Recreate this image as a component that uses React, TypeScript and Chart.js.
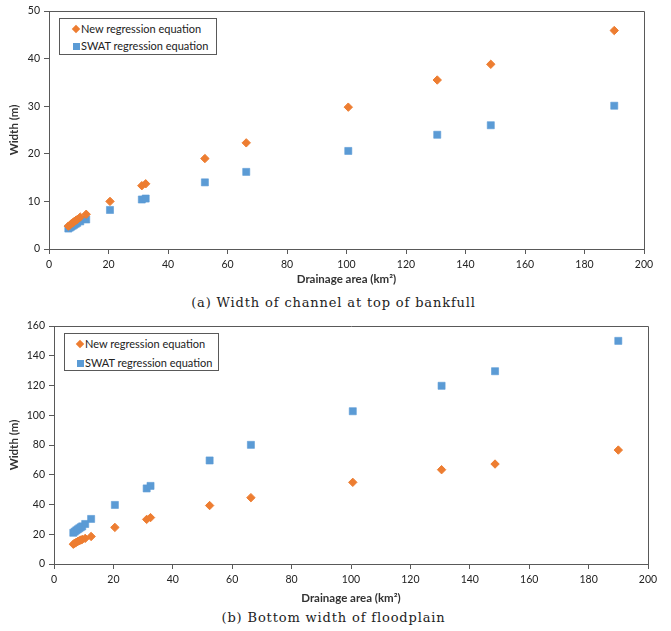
import React, { useEffect, useRef } from "react";
import { Chart, registerables } from "chart.js";

Chart.register(...registerables);

// Drainage area of each sub-basin (km²)
const drainageArea = [6.5, 7, 7.5, 8, 8.5, 9, 9.5, 10.5, 12.5, 20.5, 31.2, 32.5, 52.4, 66.3, 100.6, 130.5, 148.5, 190];

// (a) Width of channel at top of bankfull (m)
const bankfullNew = [4.8, 5.0, 5.3, 5.5, 5.8, 6.0, 6.2, 6.7, 7.3, 10.0, 13.3, 13.7, 19.0, 22.3, 29.8, 35.5, 38.8, 45.9];
const bankfullSwat = [4.3, 4.5, 4.7, 4.9, 5.1, 5.3, 5.5, 5.8, 6.2, 8.2, 10.4, 10.6, 14.0, 16.2, 20.6, 24.0, 26.0, 30.1];

// (b) Bottom width of floodplain (m)
const floodplainNew = [13.3, 14.0, 14.6, 15.1, 15.6, 16.1, 16.5, 17.2, 18.5, 24.6, 30.0, 31.2, 39.3, 44.6, 54.9, 63.4, 67.2, 76.6];
const floodplainSwat = [21.0, 21.8, 22.6, 23.3, 24.0, 24.7, 25.3, 26.9, 30.3, 39.7, 50.8, 52.5, 69.6, 80.1, 102.7, 119.8, 129.6, 150.0];

const seriesNames = ["New regression equation", "SWAT regression equation"];
const xTitle = "Drainage area (km²)";
const yTitle = "Width (m)";

const ORANGE = "#ED7D31";
const BLUE = "#5B9BD5";
const AXIS = "#595959";
const SANS = "Lato, 'Open Sans', sans-serif";

// Closes the plot area with a top and right edge
const plotFrame = {
  id: "plotFrame",
  afterDraw(chart: any) {
    const { ctx, chartArea } = chart;
    const { left, top, right, bottom } = chartArea;
    ctx.save();
    ctx.strokeStyle = AXIS;
    ctx.lineWidth = 1;
    ctx.beginPath();
    ctx.moveTo(Math.round(left) + 0.5, Math.round(top) + 0.5);
    ctx.lineTo(Math.round(right) + 0.5, Math.round(top) + 0.5);
    ctx.lineTo(Math.round(right) + 0.5, Math.round(bottom) + 0.5);
    ctx.stroke();
    ctx.restore();
  },
};

type PanelProps = {
  width: number;
  height: number;
  newValues: number[];
  swatValues: number[];
  yMax: number;
  yStep: number;
  padTop: number;
  padRight: number;
  yAxisWidth: number;
  xAxisHeight: number;
};

function Panel(p: PanelProps) {
  const ref = useRef<HTMLCanvasElement | null>(null);

  useEffect(() => {
    if (!ref.current) return;
    const toPoints = (ys: number[]) => drainageArea.map((x, i) => ({ x, y: ys[i] }));
    const chart = new Chart(ref.current, {
      type: "scatter",
      data: {
        datasets: [
          {
            label: seriesNames[0],
            data: toPoints(p.newValues),
            pointStyle: "rectRot",
            pointRadius: 4.2,
            backgroundColor: ORANGE,
            borderColor: ORANGE,
            borderWidth: 1,
          },
          {
            label: seriesNames[1],
            data: toPoints(p.swatValues),
            pointStyle: "rect",
            pointRadius: 5,
            backgroundColor: BLUE,
            borderColor: "rgba(91,155,213,0.6)",
            borderWidth: 1,
          },
        ],
      },
      options: {
        responsive: false,
        animation: false,
        devicePixelRatio: 1,
        layout: { padding: { top: p.padTop, right: p.padRight, left: 0, bottom: 0 } },
        plugins: { legend: { display: false }, tooltip: { enabled: false } },
        scales: {
          x: {
            type: "linear",
            min: 0,
            max: 200,
            ticks: { stepSize: 20, color: "#222", font: { family: SANS, size: 10.5 }, padding: 4, maxRotation: 0 },
            grid: { drawOnChartArea: false, tickLength: 5, color: AXIS },
            border: { color: AXIS },
            title: {
              display: true,
              text: xTitle,
              color: "#333",
              font: { family: SANS, size: 11.5, weight: "bold" },
              padding: { top: 0, bottom: 4 },
            },
            afterFit: (s: any) => {
              s.height = p.xAxisHeight;
              s.paddingLeft = 0;
              s.paddingRight = 0;
            },
          },
          y: {
            type: "linear",
            min: 0,
            max: p.yMax,
            ticks: { stepSize: p.yStep, color: "#222", font: { family: SANS, size: 10.5 }, padding: 4 },
            grid: { drawOnChartArea: false, tickLength: 5, color: AXIS },
            border: { color: AXIS },
            title: {
              display: true,
              text: yTitle,
              color: "#333",
              font: { family: SANS, size: 11.5, weight: "bold" },
              padding: { top: 7, bottom: 0 },
            },
            afterFit: (s: any) => {
              s.width = p.yAxisWidth;
              s.paddingTop = 0;
              s.paddingBottom = 0;
            },
          },
        },
      },
      plugins: [plotFrame],
    } as any);
    return () => chart.destroy();
  }, []);

  return <canvas ref={ref} width={p.width} height={p.height} style={{ display: "block" }} />;
}

function Legend({ left, top, width, height, row1, row2, markerX }: any) {
  const text: React.CSSProperties = {
    position: "absolute",
    left: markerX + 5,
    fontFamily: SANS,
    fontSize: 11,
    color: "#222",
    lineHeight: "14px",
    whiteSpace: "nowrap",
  };
  return (
    <div
      style={{
        position: "absolute",
        left,
        top,
        width,
        height,
        border: `1px solid ${AXIS}`,
        background: "#fff",
        boxSizing: "border-box",
      }}
    >
      <div
        style={{
          position: "absolute",
          left: markerX - 3,
          top: row1 - 3,
          width: 6,
          height: 6,
          background: ORANGE,
          transform: "rotate(45deg)",
        }}
      />
      <div style={{ ...text, top: row1 - 7 }}>{seriesNames[0]}</div>
      <div
        style={{
          position: "absolute",
          left: markerX - 3.5,
          top: row2 - 3.5,
          width: 7,
          height: 7,
          background: BLUE,
        }}
      />
      <div style={{ ...text, top: row2 - 7 }}>{seriesNames[1]}</div>
    </div>
  );
}

const captionStyle: React.CSSProperties = {
  position: "absolute",
  left: 0,
  width: 671,
  textAlign: "center",
  fontFamily: "'DejaVu Serif', 'Liberation Serif', serif",
  fontSize: 13,
  letterSpacing: "0.85px",
  lineHeight: "16px",
  color: "#222",
  paddingRight: 4,
  boxSizing: "border-box",
};

export default function App() {
  return (
    <div
      style={{
        position: "absolute",
        left: 0,
        top: 0,
        width: 671,
        height: 631,
        background: "#fff",
        overflow: "hidden",
      }}
    >
      <div style={{ position: "absolute", left: 0, top: 0 }}>
        <Panel
          width={671}
          height={290}
          newValues={bankfullNew}
          swatValues={bankfullSwat}
          yMax={50}
          yStep={10}
          padTop={11}
          padRight={27}
          yAxisWidth={49}
          xAxisHeight={41}
        />
      </div>
      <Legend left={59} top={18} width={158} height={37} row1={10} row2={27} markerX={16} />
      <div style={{ ...captionStyle, top: 295 }}>(a) Width of channel at top of bankfull</div>

      <div style={{ position: "absolute", left: 0, top: 310 }}>
        <Panel
          width={671}
          height={299}
          newValues={floodplainNew}
          swatValues={floodplainSwat}
          yMax={160}
          yStep={20}
          padTop={16}
          padRight={23}
          yAxisWidth={54}
          xAxisHeight={45}
        />
      </div>
      <Legend left={64} top={333} width={155} height={38} row1={10} row2={29} markerX={15} />
      <div style={{ ...captionStyle, top: 610 }}>(b) Bottom width of floodplain</div>
    </div>
  );
}
